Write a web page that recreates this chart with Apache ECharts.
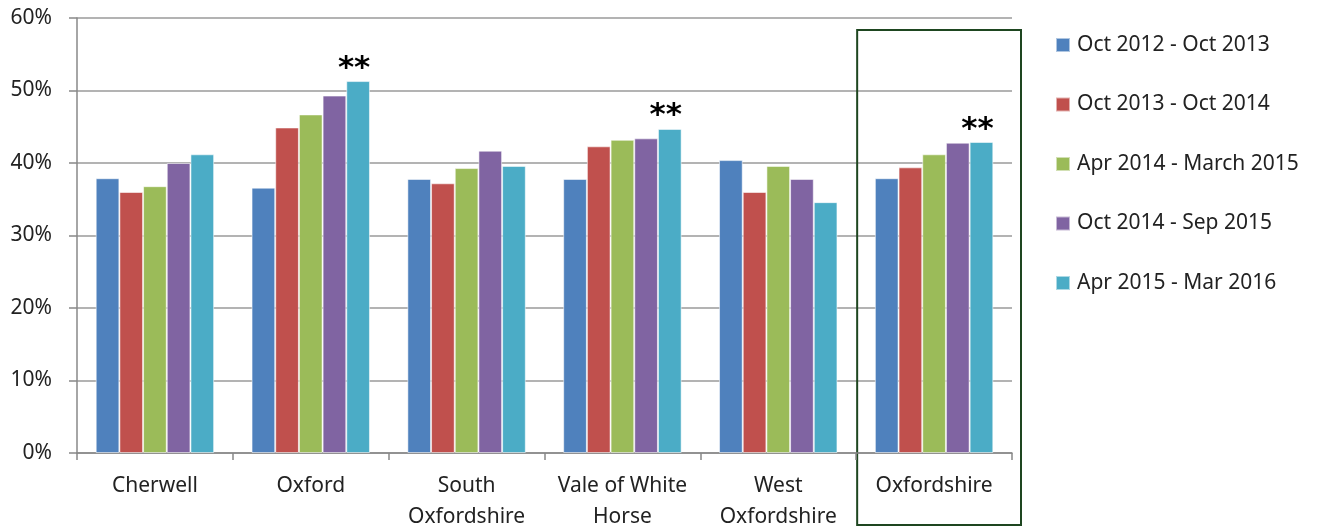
<!DOCTYPE html>
<html>
<head>
<meta charset="utf-8">
<script src="https://cdn.jsdelivr.net/npm/echarts@6/dist/echarts.min.js"></script>
<style>
  html, body { margin: 0; padding: 0; background: #fff; }
  #chart { width: 1328px; height: 528px; }
</style>
</head>
<body>
<div id="chart"></div>
<script>
const districts = ['Cherwell', 'Oxford', 'South\nOxfordshire', 'Vale of White\nHorse', 'West\nOxfordshire', 'Oxfordshire']
const periods = ['Oct 2012 - Oct 2013', 'Oct 2013 - Oct 2014', 'Apr 2014 - March 2015', 'Oct 2014 - Sep 2015', 'Apr 2015 - Mar 2016']
const colors = ['#4F81BD', '#C0504D', '#9BBB59', '#8064A2', '#4BACC6']
const oct12 = [37.9, 36.6, 37.8, 37.8, 40.4, 37.9]
const oct13 = [36.0, 44.9, 37.2, 42.3, 36.0, 39.4]
const apr14 = [36.8, 46.7, 39.3, 43.2, 39.6, 41.2]
const oct14 = [40.0, 49.3, 41.7, 43.4, 37.8, 42.8]
const apr15 = [41.2, 51.3, 39.6, 44.7, 34.6, 42.9]
// ** significance marks above the latest period
const starred = [false, true, false, true, false, true]

const font = 'Noto Sans'
const allValues = [oct12, oct13, apr14, oct14, apr15]

const myChart = echarts.init(document.getElementById('chart'))

const series = periods.map((name, i) => ({
  name: name,
  type: 'bar',
  barGap: '0%',
  barCategoryGap: '24%',
  itemStyle: {
    color: colors[i],
    borderColor: 'rgba(255,255,255,0.55)',
    borderWidth: 1
  },
  data: allValues[i].map((v, j) => {
    if (i === periods.length - 1 && starred[j]) {
      return {
        value: v,
        label: {
          show: true,
          position: 'top',
          formatter: '**',
          fontSize: 31,
          fontWeight: 'bold',
          color: '#000',
          fontFamily: 'DejaVu Sans',
          offset: [-4, 8]
        }
      }
    }
    return v
  })
}))

let option = {
  animation: false,
  color: colors,
  textStyle: { fontFamily: font },
  grid: {
    left: 77,
    right: 316,
    top: 18,
    bottom: 75,
    outerBoundsMode: 'none'
  },
  legend: {
    orient: 'vertical',
    left: 1055,
    top: 34,
    padding: 0,
    itemWidth: 14,
    itemHeight: 14,
    itemGap: 37.5,
    icon: 'rect',
    textStyle: {
      fontSize: 21,
      lineHeight: 22,
      color: '#222',
      fontFamily: font,
      padding: [0, 0, 0, 2]
    },
    data: periods
  },
  xAxis: {
    type: 'category',
    data: districts,
    axisLine: { lineStyle: { color: '#888', width: 1.5 } },
    axisTick: { show: true, length: 7, lineStyle: { color: '#888', width: 1.5 } },
    axisLabel: {
      fontSize: 21,
      color: '#222',
      margin: 18,
      lineHeight: 31,
      interval: 0
    }
  },
  yAxis: {
    type: 'value',
    min: 0,
    max: 60,
    interval: 10,
    axisLine: { show: true, lineStyle: { color: '#888', width: 1.5 } },
    axisTick: { show: true, length: 8, lineStyle: { color: '#888', width: 1.5 } },
    axisLabel: {
      fontSize: 21,
      color: '#222',
      margin: 25,
      formatter: '{value}%'
    },
    splitLine: { lineStyle: { color: '#9a9a9a', width: 1.5 } }
  },
  series: series
}
myChart.setOption(option)

// green frame around the county total category
const xa = myChart.getModel().getComponent('xAxis', 0).axis
const band = xa.getBandWidth()
const cx = myChart.convertToPixel({ xAxisIndex: 0 }, districts[districts.length - 1])
myChart.setOption({
  graphic: [{
    type: 'rect',
    shape: { x: cx - band / 2 + 1, y: 30, width: band + 8, height: 495 },
    style: { fill: 'none', stroke: '#1E4620', lineWidth: 2 },
    silent: true
  }]
})
</script>
</body>
</html>
